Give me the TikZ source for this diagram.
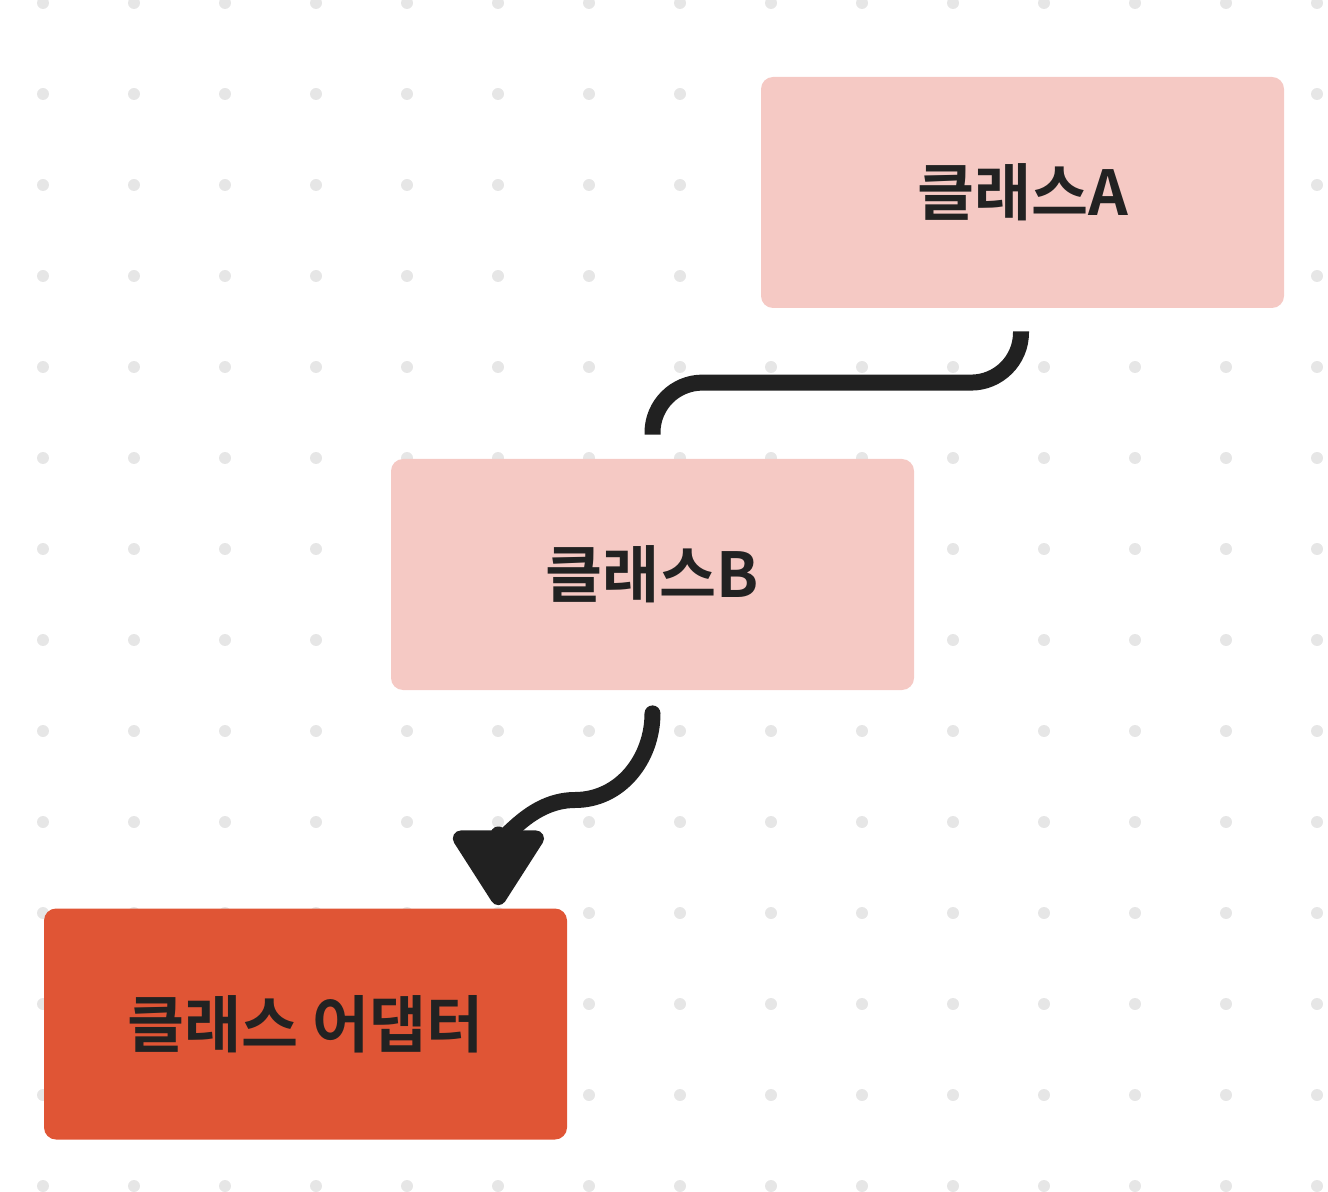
\documentclass[tikz,border=0pt]{standalone}
\usepackage{fontspec}
\setmainfont{Noto Sans CJK KR}[BoldFont={Noto Sans CJK KR Bold}]
\usetikzlibrary{arrows.meta,calc}
\definecolor{ink}{HTML}{222222}
\definecolor{wire}{HTML}{212121}
\definecolor{dot}{HTML}{E6E6E6}
\definecolor{cls}{HTML}{F5C9C4}
\definecolor{adp}{HTML}{E05535}

\begin{document}
\begin{tikzpicture}[x=0.5pt, y=-0.5pt,
  box/.style={fill=#1, rounded corners=6pt, minimum width=261.5pt, minimum height=115.5pt, inner sep=0pt, text=ink, font=\fontsize{31}{37}\selectfont\bfseries},
  link/.style={draw=wire, line width=8pt}]
\useasboundingbox (0,0) rectangle (1328,1192);
% ---------------- dot grid
\foreach \i in {0,...,14}
  \foreach \j in {0,...,13}
    \fill[dot] (43+91*\i, 3+91*\j) circle (3pt);
% ---------------- classes
\node[box=cls] (clsA) at (1022.5,192.5) {클래스A};
\node[box=cls] (clsB) at (652.5,574.5) {클래스B};
\node[box=adp] (clsAd) at (305.5,1024) {클래스 어댑터};
% ---------------- connectors
\draw[link, rounded corners=25pt] ([xshift=-0.75pt,yshift=-11.5pt]clsA.south) |- ($(clsB.north)+(0,-76)$) -- ([yshift=12pt]clsB.north);
\coordinate (bendB) at (575,800);
\draw[link, line cap=round, -{Triangle[length=41pt, width=50pt, round]}] ([yshift=-11.5pt]clsB.south) to[out=-90, in=0] (bendB) to[out=180, in=90] ([xshift=-34.5pt, yshift=1.5pt]clsAd.north east);
\end{tikzpicture}
\end{document}
